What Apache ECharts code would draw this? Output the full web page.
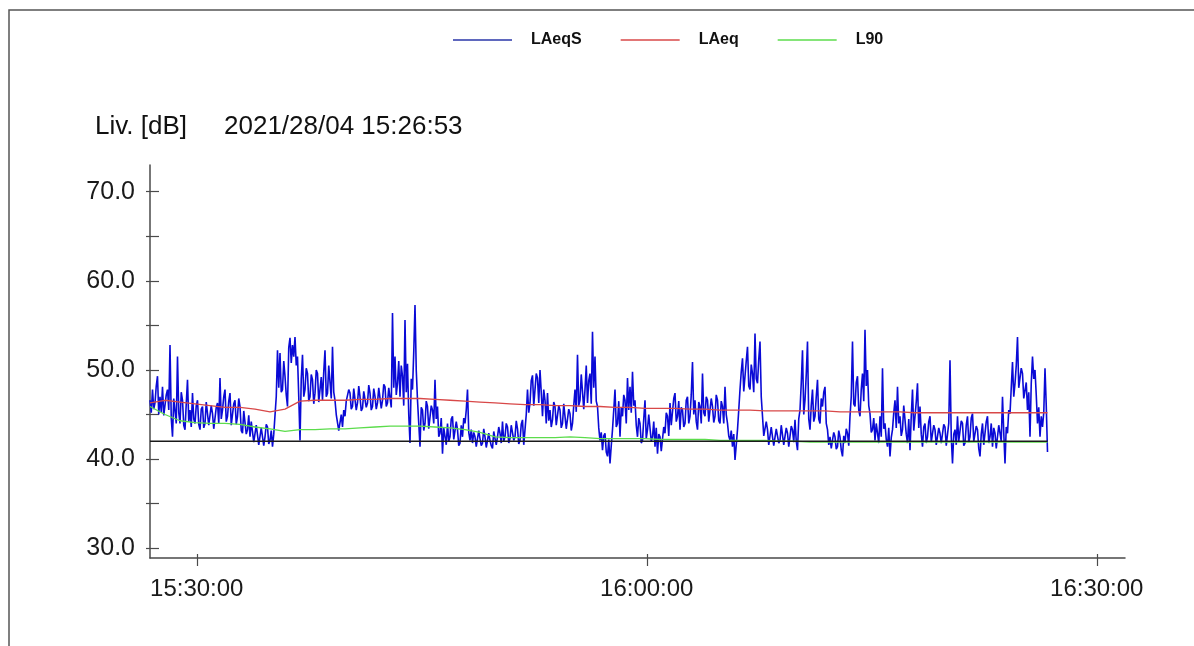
<!DOCTYPE html>
<html>
<head>
<meta charset="utf-8">
<script src="https://cdn.jsdelivr.net/npm/echarts@6/dist/echarts.min.js"></script>
<style>
  html, body { margin: 0; padding: 0; background: #ffffff; }
  #chart { width: 1194px; height: 646px; }
</style>
</head>
<body>
<div id="chart"></div>
<script>
// Sound level record started 2021/28/04 15:26:53.
// Times are seconds after 15:00:00.
const startSec = 1613;
const sampleStep = 10;   // LAeqS: one value every 10 s ...
const halfOffset = 5;    // ... plus one value 5 s later in each slot
const trendStep = 60;    // LAeq and L90: one value every minute

// Short LAeqS levels [dB] at the start of each 10 s slot
const laeqS = [
  46.6, 47.8, 46.3, 49.3, 47.0, 48.1, 44.8, 47.8, 52.8, 42.5,
  47.0, 51.5, 44.0, 46.6, 43.3, 48.9, 45.5, 47.4, 44.0, 46.6,
  43.3, 45.9, 44.0, 46.3, 43.6, 45.1, 43.6, 46.3, 49.1, 45.5,
  47.8, 44.8, 47.4, 44.0, 46.6, 44.8, 45.9, 42.9, 45.5, 43.3,
  42.5, 44.4, 42.0, 44.0, 41.8, 43.3, 42.5, 43.6, 42.1, 41.4,
  42.9, 52.2, 51.9, 47.8, 49.3, 45.9, 53.6, 52.8, 53.7, 51.5,
  42.1, 51.7, 47.8, 49.6, 47.0, 48.9, 47.4, 49.6, 47.8, 46.6,
  52.2, 47.4, 50.4, 52.6, 46.6, 44.8, 43.3, 43.6, 44.8, 46.3,
  47.4, 45.9, 47.8, 46.3, 47.0, 45.7, 47.8, 46.3, 47.4, 45.9,
  47.0, 46.3, 47.8, 46.6, 48.1, 46.3, 47.8, 56.4, 51.5, 48.5,
  47.0, 49.3, 55.6, 50.7, 41.8, 47.8, 57.3, 46.6, 41.4, 45.5,
  44.0, 45.9, 43.6, 45.5, 48.9, 45.9, 42.9, 40.6, 43.3, 44.0,
  42.5, 44.8, 42.1, 43.3, 41.8, 42.5, 44.0, 47.8,
  42.1, 41.8, 42.5, 41.6, 42.3, 41.8, 42.5, 41.4, 42.1, 41.2,
  42.3, 42.5, 42.9, 44.2, 42.5, 43.6, 42.3, 44.0, 42.5, 43.4,
  42.1, 44.4, 41.4, 47.8, 46.3, 49.4, 47.8, 49.1, 50.0, 44.8,
  46.6, 47.4, 45.5, 44.4, 45.9, 43.6, 45.5, 44.0, 44.8, 43.3,
  45.1, 44.0, 47.8, 51.7, 46.6, 49.3, 47.8, 46.3, 49.6, 54.3,
  51.5, 45.9, 42.1, 41.0, 42.9, 40.3, 39.5, 43.3, 47.8, 44.0,
  42.5, 44.8, 46.6, 49.1, 48.1, 49.8, 46.6, 42.5, 44.0, 42.1,
  46.6, 43.3, 44.8, 42.5, 41.4, 40.6, 42.5, 41.0, 42.9, 44.8,
  46.3, 44.0, 47.4, 44.8, 43.3, 45.5, 44.0, 47.0, 44.8, 50.9,
  46.6, 43.3, 45.9, 49.6, 44.8, 46.6, 44.0, 45.9, 44.8, 46.6,
  44.0, 45.9, 48.1, 44.0, 42.1, 41.4, 39.9, 43.3, 47.8, 51.3,
  49.3, 52.6, 47.8, 49.6, 54.1, 48.5, 53.2, 44.8, 42.5, 43.3,
  41.8, 42.5, 41.4, 43.6, 42.1, 44.0, 41.8, 42.9, 41.4, 43.3,
  44.4, 41.0, 45.5,
  52.2, 46.6, 53.2, 43.3, 47.8, 44.8, 48.9, 44.0, 45.9, 48.1,
  43.3, 42.5, 41.0, 42.5, 41.4, 42.5, 40.3, 41.8, 42.9, 44.8,
  53.2, 45.9, 49.3, 44.8, 49.6, 54.5, 50.0, 45.1, 43.3, 42.1,
  44.0, 44.8, 50.2, 44.0, 41.4, 40.3, 43.3, 46.6, 48.1, 44.8,
  43.3, 45.9, 41.8, 41.0, 47.8, 43.3, 48.5, 45.9, 41.4, 44.0,
  42.5, 44.8, 42.1, 43.3, 41.4, 42.9, 41.8, 43.6, 41.4, 51.1,
  39.5, 43.3, 44.8, 42.1, 44.0, 41.8, 44.8, 42.5, 45.1, 41.8,
  43.3, 40.3, 44.0, 41.8, 44.8, 42.5, 41.4, 42.9, 41.4, 44.0,
  47.0, 39.5, 42.9, 45.1, 50.9, 48.5, 53.7, 47.8, 49.6, 46.6,
  45.5, 42.5, 51.5, 50.0, 44.0, 42.5, 43.6, 50.2, 40.8
];

// Short LAeqS levels [dB] 5 s into each 10 s slot
const laeqSHalf = [
  45.2, 45.6, 48.2, 45.0, 45.3, 44.9, 47.2, 45.5, 44.6, 46.8,
  44.0, 45.2, 47.5, 43.8, 46.2, 44.2, 43.6, 44.5, 46.0, 43.9,
  45.6, 43.5, 46.4, 43.8, 46.0, 43.4, 45.8, 44.0, 44.5, 47.0,
  44.2, 46.5, 43.8, 46.2, 43.9, 46.8, 43.2, 45.4, 42.8, 44.9,
  44.2, 41.9, 43.8, 41.6, 43.5, 41.5, 43.9, 41.7, 43.2, 42.8,
  47.0, 48.0, 47.5, 51.0, 47.2, 52.5, 50.8, 51.5, 50.5, 47.0,
  49.0, 47.0, 50.2, 46.5, 49.5, 46.2, 50.0, 46.4, 49.2, 49.8,
  47.0, 50.5, 46.8, 47.5, 45.0, 43.2, 45.0, 45.5, 46.5, 47.8,
  45.6, 47.9, 45.5, 48.2, 45.4, 47.6, 45.8, 48.3, 45.5, 47.9,
  45.6, 48.0, 45.7, 48.4, 45.9, 48.0, 45.8, 48.0, 47.2, 51.0,
  50.5, 46.0, 47.5, 45.0, 49.0, 52.0, 50.0, 44.0, 45.8, 43.2,
  46.5, 43.4, 46.0, 44.0, 44.5, 42.5, 44.6, 43.5, 41.6, 42.0,
  44.5, 42.2, 44.2, 41.5, 43.8, 44.6, 45.5, 43.0,
  43.3, 43.0, 41.4, 43.2, 41.5, 43.4, 41.3, 42.9, 41.5, 43.1,
  41.6, 43.6, 41.8, 42.0, 44.0, 41.8, 43.8, 42.1, 44.3, 41.7,
  43.9, 41.6, 45.0, 45.2, 48.8, 46.0, 49.6, 46.3, 47.5, 47.8,
  44.0, 44.3, 43.6, 46.4, 43.8, 46.0, 43.5, 46.2, 43.4, 45.6,
  43.2, 46.0, 45.3, 46.0, 49.5, 45.6, 50.5, 48.8, 46.2, 48.0,
  46.5, 43.5, 43.0, 42.6, 40.8, 42.2, 41.5, 45.5, 43.6, 46.5,
  45.8, 47.2, 44.0, 45.5, 45.2, 46.0, 43.8, 44.6, 41.8, 44.5,
  42.3, 45.0, 42.0, 44.2, 43.5, 42.8, 40.9, 43.6, 45.2, 42.6,
  43.8, 46.8, 44.2, 46.5, 45.8, 43.6, 46.6, 44.0, 47.2, 45.0,
  44.2, 46.4, 44.0, 45.2, 47.0, 44.2, 46.8, 44.1, 47.2, 44.3,
  46.5, 44.0, 45.0, 42.6, 43.2, 42.8, 41.6, 45.5, 49.8, 47.6,
  51.0, 48.2, 50.6, 47.5, 49.0, 51.2, 47.0, 42.6, 44.2, 41.6,
  43.6, 41.5, 43.4, 41.8, 43.8, 41.6, 43.5, 41.4, 43.7, 41.9,
  42.0, 44.5, 48.5,
  45.0, 49.5, 44.5, 46.0, 44.2, 47.0, 44.5, 46.8, 47.5, 44.0,
  41.6, 41.2, 43.0, 41.1, 43.2, 41.0, 42.6, 43.4, 41.5, 47.0,
  46.2, 48.6, 45.5, 47.8, 46.5, 48.2, 46.0, 43.0, 44.6, 44.0,
  41.8, 42.5, 43.4, 42.2, 43.5, 42.4, 45.2, 43.5, 44.0, 42.6,
  46.0, 42.8, 44.5, 44.8, 43.2, 46.4, 43.5, 42.8, 43.6, 41.8,
  44.2, 41.9, 43.8, 41.6, 43.5, 41.8, 43.9, 41.5, 44.0, 42.5,
  42.8, 41.6, 42.0, 44.3, 41.5, 43.8, 41.9, 44.6, 42.0, 43.7,
  41.2, 42.8, 41.6, 44.2, 41.8, 44.0, 43.5, 41.2, 43.8, 42.0,
  43.0, 43.6, 45.5, 48.0, 47.0, 50.5, 48.0, 50.2, 46.8, 48.6,
  47.5, 48.5, 49.0, 47.2, 45.8, 44.8, 45.2, 46.0
];

// Running LAeq [dB], per minute
const laeq = [
  46.3, 46.6, 46.4, 46.2, 46.0, 45.8, 45.8, 45.6, 45.3, 45.6,
  46.5, 46.6, 46.6, 46.6, 46.7, 46.7, 46.8, 46.8, 46.8, 46.7,
  46.6, 46.5, 46.4, 46.3, 46.2, 46.1, 46.1, 46.0, 46.0, 45.9,
  45.9, 45.8, 45.8, 45.7, 45.7, 45.7, 45.6, 45.6, 45.5, 45.5,
  45.5, 45.4, 45.4, 45.4, 45.4, 45.4, 45.3, 45.3, 45.3, 45.3,
  45.3, 45.2, 45.2, 45.2, 45.2, 45.2, 45.2, 45.2, 45.2, 45.2, 45.2
];

// Running L90 [dB], per minute
const l90 = [
  45.9, 45.0, 44.3, 44.1, 44.0, 44.0, 43.9, 43.6, 43.4, 43.1,
  43.3, 43.3, 43.4, 43.4, 43.5, 43.6, 43.7, 43.7, 43.7, 43.6,
  43.5, 43.3, 43.0, 42.5, 42.4, 42.4, 42.4, 42.4, 42.5, 42.4,
  42.3, 42.3, 42.3, 42.3, 42.2, 42.2, 42.2, 42.2, 42.1, 42.1,
  42.1, 42.1, 42.0, 42.0, 41.9, 41.9, 41.9, 41.9, 41.9, 41.9,
  41.9, 41.9, 41.9, 41.9, 41.9, 41.9, 41.9, 41.9, 41.9, 41.9, 41.9
];

// Overall L90 of the record [dB]
const refLevel = 42.0;

const xTickValues = [1800, 3600, 5400];
const yLabelValues = [30, 40, 50, 60, 70];
const yTickValues = [30, 35, 40, 45, 50, 55, 60, 65, 70];
const seriesNames = ['LAeqS', 'LAeq', 'L90'];

const endSec = startSec + sampleStep * (laeqS.length - 1);
const fastData = [];
laeqS.forEach((v, i) => {
  const t = startSec + i * sampleStep;
  fastData.push([t, v]);
  if (i < laeqSHalf.length && t + halfOffset <= endSec) {
    fastData.push([t + halfOffset, laeqSHalf[i]]);
  }
});
const trendTime = i => Math.min(startSec + i * trendStep, endSec);
const laeqData = laeq.map((v, i) => [trendTime(i), v]);
const l90Data = l90.map((v, i) => [trendTime(i), v]);
const refData = [[startSec, refLevel], [endSec, refLevel]];

function clock(sec) {
  const h = 15 + Math.floor(sec / 3600);
  const m = Math.floor((sec % 3600) / 60);
  const s = Math.round(sec % 60);
  const p = n => String(n).padStart(2, '0');
  return p(h) + ':' + p(m) + ':' + p(s);
}

const FONT = '"Liberation Sans", Arial, sans-serif';
const AXIS_COLOR = '#4a4a4a';
const X_MIN = startSec, X_MAX = 5513;
const Y_MIN = 28.9, Y_MAX = 73.0;

const chart = echarts.init(document.getElementById('chart'), null, { renderer: 'canvas' });

chart.setOption({
  animation: false,
  backgroundColor: '#ffffff',
  textStyle: { fontFamily: FONT },
  grid: { left: 150, right: 69, top: 165, bottom: 88, containLabel: false },
  legend: {
    data: seriesNames,
    left: 453,
    top: 32,
    padding: 0,
    icon: 'rect',
    itemWidth: 59,
    itemHeight: 1.6,
    itemGap: 39,
    textStyle: { fontFamily: FONT, fontSize: 16, fontWeight: 'bold', color: '#111', padding: [0, 0, 0, 14] }
  },
  graphic: [
    {
      type: 'polyline',
      shape: { points: [[9, 646], [9, 10], [1194, 10]] },
      style: { stroke: '#555', lineWidth: 1.5, fill: null },
      silent: true
    },
    {
      type: 'text', left: 95, top: 114,
      style: { text: 'Liv. [dB]', font: '26px ' + FONT, fill: '#111' }
    },
    {
      type: 'text', left: 224, top: 114,
      style: { text: '2021/28/04 15:26:53', font: '26px ' + FONT, fill: '#111' }
    }
  ],
  xAxis: [
    {
      type: 'value', min: X_MIN, max: X_MAX,
      axisLine: { show: true, lineStyle: { color: AXIS_COLOR, width: 1.5 } },
      splitLine: { show: false },
      axisTick: { show: true, inside: false, length: 8, customValues: xTickValues, lineStyle: { color: AXIS_COLOR, width: 1.2 } },
      axisLabel: { show: true, customValues: xTickValues, formatter: v => clock(v), margin: 19, fontSize: 24, color: '#1a1a1a', fontFamily: FONT }
    },
    {
      type: 'value', min: X_MIN, max: X_MAX, position: 'bottom',
      axisLine: { show: false }, splitLine: { show: false }, axisLabel: { show: false },
      axisTick: { show: true, inside: true, length: 4, customValues: xTickValues, lineStyle: { color: AXIS_COLOR, width: 1.2 } }
    }
  ],
  yAxis: [
    {
      type: 'value', min: Y_MIN, max: Y_MAX,
      axisLine: { show: true, lineStyle: { color: AXIS_COLOR, width: 1.5 } },
      splitLine: { show: false },
      axisTick: { show: true, inside: true, length: 9, customValues: yTickValues, lineStyle: { color: AXIS_COLOR, width: 1.2 } },
      axisLabel: { show: true, customValues: yLabelValues, formatter: v => v.toFixed(1), margin: 15, fontSize: 25, color: '#1a1a1a', fontFamily: FONT }
    },
    {
      type: 'value', min: Y_MIN, max: Y_MAX, position: 'left',
      axisLine: { show: false }, splitLine: { show: false }, axisLabel: { show: false },
      axisTick: { show: true, inside: false, length: 4, customValues: yTickValues, lineStyle: { color: AXIS_COLOR, width: 1.2 } }
    }
  ],
  series: [
    {
      name: 'LAeqS', type: 'line', data: fastData, showSymbol: false, symbol: 'none',
      lineStyle: { color: '#0a0ad6', width: 1.6 }, itemStyle: { color: '#2a36a8' }, z: 2
    },
    {
      name: 'LAeq', type: 'line', data: laeqData, showSymbol: false, symbol: 'none',
      lineStyle: { color: '#d84848', width: 1.3 }, itemStyle: { color: '#d84848' }, z: 3
    },
    {
      name: 'L90', type: 'line', data: l90Data, showSymbol: false, symbol: 'none',
      lineStyle: { color: '#5cdc4c', width: 1.3 }, itemStyle: { color: '#5cdc4c' }, z: 4
    },
    {
      name: 'ref', type: 'line', data: refData, showSymbol: false, symbol: 'none',
      lineStyle: { color: '#1a1a1a', width: 1.4 }, z: 5
    }
  ]
});
</script>
</body>
</html>
